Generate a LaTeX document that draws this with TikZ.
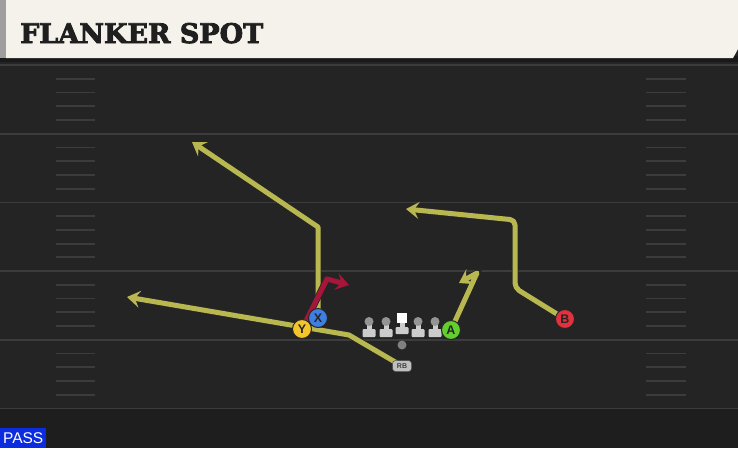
\documentclass[tikz,border=0pt]{standalone}
\usepackage{fontspec}
\setmainfont{Liberation Sans}
\newfontfamily\titlefont{DejaVu Serif}[BoldFeatures={FakeBold=3}]
\usetikzlibrary{
    arrows.meta,
    backgrounds,
    positioning
}
\definecolor{fieldgrey}{RGB}{36,36,36}
\definecolor{endgrey}{RGB}{30,30,30}
\definecolor{yardgrey}{RGB}{60,60,60}
\definecolor{headercream}{RGB}{244,242,235}
\definecolor{routeyellow}{RGB}{185,184,80}
\definecolor{routered}{RGB}{165,22,58}
\definecolor{ycolor}{RGB}{244,196,43}
\definecolor{xcolor}{RGB}{63,127,224}
\definecolor{acolor}{RGB}{98,207,46}
\definecolor{bcolor}{RGB}{226,50,63}
\definecolor{passblue}{RGB}{12,44,224}
\pgfdeclarelayer{field}
\pgfdeclarelayer{routes}
\pgfsetlayers{field,routes,main}

\begin{document}
\begin{tikzpicture}[x=1pt, y=-1pt,
        player/.style={circle, draw=black!85, line width=1pt, minimum size=19pt, inner sep=0pt,
            font=\fontsize{12.5}{12.5}\selectfont\bfseries, text=black!85},
        route/.style={draw=routeyellow, line width=5pt, line join=round,
            -{Stealth[length=13pt, width=17pt, inset=5pt]},
            preaction={draw=black!85, line width=6.6pt}},
        hotroute/.style={route, draw=routered},
        lineman/.style={fill=black!20},
        hashmark/.style={draw=yardgrey, line width=1.8pt}]

    \useasboundingbox (0,0) rectangle (738,448);

    \begin{pgfonlayer}{field}
        \fill[fieldgrey] (0,0) rectangle (738,448);
        \fill[endgrey] (0,409) rectangle (738,448);
        \fill[black!90] (0,56) rectangle (738,62);
        \fill[headercream] (6,0) -- (738,0) -- (738,49) -- (733,58) -- (6,58) -- cycle;
        \fill[black!38] (0,0) rectangle (6,58);
        \foreach \yl in {0,...,5}
            \draw[yardgrey, line width=1.8pt] (0,65+\yl*68.7) -- (738,65+\yl*68.7);
        \foreach \yl in {0,...,4}
            \foreach \k in {1,...,4} {
                \draw[hashmark] (56,65+\yl*68.7+\k*13.74) -- (95,65+\yl*68.7+\k*13.74);
                \draw[hashmark] (646,65+\yl*68.7+\k*13.74) -- (686,65+\yl*68.7+\k*13.74);
            }
    \end{pgfonlayer}

    \node[anchor=base west, inner sep=0pt, text=black!88,
        font=\titlefont\bfseries\fontsize{27}{27}\selectfont] (title) at (20,43) {FLANKER SPOT};

    \foreach \lx in {369,386,418,435} {
        \fill[lineman, rounded corners=1pt] (\lx-6.5,329) rectangle (\lx+6.5,337);
        \fill[lineman] (\lx-2.5,322) rectangle (\lx+2.5,330);
        \fill[black!42] (\lx,321.5) circle (4.5);
    }
    \fill[lineman, rounded corners=1pt] (395.5,327) rectangle (408.5,334);
    \fill[lineman] (399.5,320) rectangle (404.5,328);
    \fill[white] (397,313) rectangle (407,323);

    \node[circle, fill=black!50, minimum size=9pt, inner sep=0pt] (qb) at (402,345) {};
    \node[fill=black!25, draw=black!70, line width=0.5pt, rounded corners=3pt,
        minimum width=19pt, minimum height=11pt, inner sep=0pt,
        font=\fontsize{7}{7}\selectfont\bfseries, text=black!75] (rb) at (402,366) {RB};

    \node[player, fill=ycolor] (y) at (302,329) {Y};
    \node[player, fill=xcolor] (x) at (318,318) {X};
    \node[player, fill=acolor] (a) at (451,330) {A};
    \node[player, fill=bcolor] (b) at (565,319) {B};

    \coordinate (xbreak) at (318,227);
    \coordinate (xend) at (192,142);
    \coordinate (rbbreak) at (349,335);
    \coordinate (rbend) at (127,297);
    \coordinate (ybreak) at (327,279);
    \coordinate (yend) at (349,285);
    \coordinate (abreak) at (477,273);
    \coordinate (aend) at (459,283);
    \coordinate (bbreak) at (515,288);
    \coordinate (bcorner) at (515,220);
    \coordinate (bend) at (406,209);

    \begin{pgfonlayer}{routes}
        \draw[route] (x.center) -- (xbreak) -- (xend);
        \draw[route] (rb.center) -- (rbbreak) -- (rbend);
        \draw[route] (a.center) -- (abreak) -- (aend);
        \draw[route, rounded corners=5pt] (b.center) -- (bbreak) -- (bcorner) -- (bend);
        \draw[hotroute] (y.center) -- (ybreak) -- (yend);
    \end{pgfonlayer}

    \node[fill=passblue, text=white, anchor=south west, minimum width=46pt, minimum height=20pt,
        inner sep=0pt, font=\fontsize{15.5}{15.5}\selectfont] (pass) at (0,448) {PASS};
\end{tikzpicture}
\end{document}
